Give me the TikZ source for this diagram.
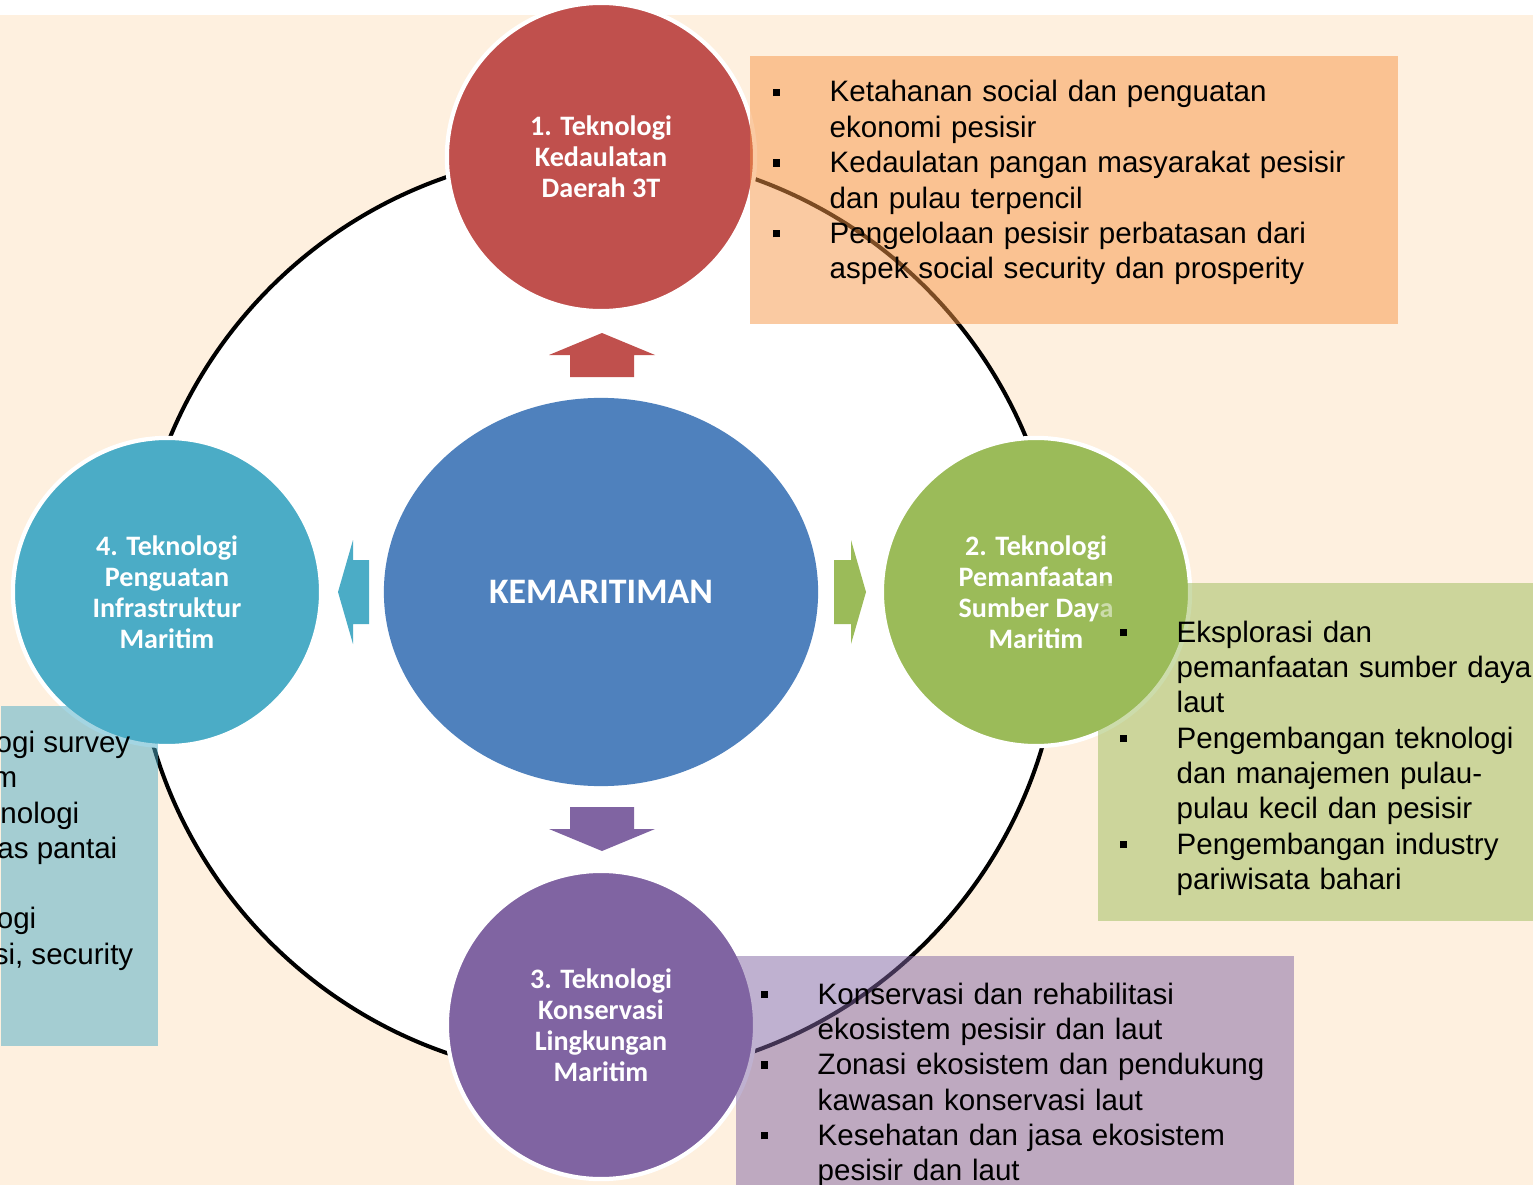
\documentclass[tikz,border=0pt]{standalone}
\usepackage{fontspec}
\newfontfamily\arialfont{Liberation Sans}
\newfontfamily\calfont{Carlito}
\usepackage{xcolor}
\definecolor{PageCream}{HTML}{FEF0DF}
\definecolor{CoreBlue}{HTML}{4F81BD}
\definecolor{SovRed}{HTML}{C0504D}
\definecolor{ResGreen}{HTML}{9BBB59}
\definecolor{EnvPurple}{HTML}{8064A2}
\definecolor{InfraCyan}{HTML}{4BACC6}
\definecolor{NoteOrange}{HTML}{F79646}
\usepackage{tikz}
\usetikzlibrary{shapes.geometric, calc, positioning}
\tikzset{
  ringline/.style={draw=black, fill=white, line width=1.15pt},
  techcircle/.style={circle, draw=white, line width=1.2pt, minimum size=3.08cm, inner sep=0pt, text=white, font=\calfont\bfseries\fontsize{8}{8.8}\selectfont, align=center},
  corenode/.style={ellipse, fill=CoreBlue, minimum width=4.34cm, minimum height=3.88cm, inner sep=0pt, text=white, font=\calfont\bfseries\fontsize{10.2}{12}\selectfont},
  notebox/.style={rectangle, fill opacity=0.5, inner sep=0pt, anchor=north west},
  notetext/.style={font=\arialfont\fontsize{8.4}{10.05}\selectfont, inner sep=0pt, align=left, anchor=base west},
  cuttext/.style={font=\arialfont\fontsize{8.4}{10.05}\selectfont, inner sep=0pt, anchor=base east}
}
\newcommand{\sqb}{\makebox[0.57cm][l]{\rule[0.2em]{0.075cm}{0.075cm}}}
\newcommand{\ind}{\hspace*{0.57cm}}

\begin{document}
\begin{tikzpicture}[x=0.01cm, y=-0.01cm]
  \useasboundingbox (0,0) rectangle (1533,1185);
  \clip (0,0) rectangle (1533,1185);

  % Page
  \fill[white] (0,0) rectangle (1533,15);
  \fill[PageCream] (0,15) rectangle (1533,1185);

  % Ring
  \coordinate (ringc) at (598,615);
  \draw[ringline] (ringc) circle [radius=4.63cm];

  % Technology circles
  \node[techcircle, fill=SovRed] (tech1) at (601,157) {1. Teknologi\\Kedaulatan\\Daerah 3T};
  \node[techcircle, fill=ResGreen] (tech2) at (1036,592) {2. Teknologi\\Pemanfaatan\\Sumber Daya\\Maritim};
  \node[techcircle, fill=EnvPurple] (tech3) at (601,1025) {3. Teknologi\\Konservasi\\Lingkungan\\Maritim};
  \node[techcircle, fill=InfraCyan] (tech4) at (167,592) {4. Teknologi\\Penguatan\\Infrastruktur\\Maritim};

  % Core
  \node[corenode] (core) at (601,592) {KEMARITIMAN};

  % Block arrows
  \fill[SovRed] (570,377) -- (570,355) -- (549,355) -- (602,333) -- (655,355) -- (634,355) -- (634,377) -- cycle;
  \fill[EnvPurple] (570,807) -- (570,829) -- (549,829) -- (602,851) -- (655,829) -- (634,829) -- (634,807) -- cycle;
  \fill[InfraCyan] (369,560) -- (353,560) -- (353,540) -- (338,592) -- (353,644) -- (353,624) -- (369,624) -- cycle;
  \fill[ResGreen] (834,560) -- (851,560) -- (851,540) -- (866,592) -- (851,644) -- (851,624) -- (834,624) -- cycle;

  % Notes for 1
  \node[notebox, fill=NoteOrange, minimum width=6.48cm, minimum height=2.68cm] (note1) at (749,55) {};
  \node[notetext, text width=6.1cm] (list1) at ($(note1.north west)+(23,47)$)
    {\sqb Ketahanan social dan penguatan\\
     \ind ekonomi pesisir\\
     \sqb Kedaulatan pangan masyarakat pesisir\\
     \ind dan pulau terpencil\\
     \sqb Pengelolaan pesisir perbatasan dari\\
     \ind aspek social security dan prosperity};

  % Notes for 2
  \node[notebox, fill=ResGreen, minimum width=4.36cm, minimum height=3.38cm] (note2) at (1097,582) {};
  \node[notetext, text width=4.3cm] (list2) at ($(note2.north west)+(22,60)$)
    {\sqb Eksplorasi dan\\
     \ind pemanfaatan sumber daya\\
     \ind laut\\
     \sqb Pengembangan teknologi\\
     \ind dan manajemen pulau-\\
     \ind pulau kecil dan pesisir\\
     \sqb Pengembangan industry\\
     \ind pariwisata bahari};

  % Notes for 3
  \node[notebox, fill=EnvPurple, minimum width=5.58cm, minimum height=2.30cm] (note3) at (735,955) {};
  \node[notetext, text width=5.3cm] (list3) at ($(note3.north west)+(25,49)$)
    {\sqb Konservasi dan rehabilitasi\\
     \ind ekosistem pesisir dan laut\\
     \sqb Zonasi ekosistem dan pendukung\\
     \ind kawasan konservasi laut\\
     \sqb Kesehatan dan jasa ekosistem\\
     \ind pesisir dan laut};

  % Notes for 4 (cut by the page edge)
  \node[notebox, fill=InfraCyan, minimum width=1.57cm, minimum height=3.40cm] (note4) at (0,705) {};
  \node[cuttext] (cut1) at ($(note4.north west)+(131,47)$) {ogi survey};
  \node[cuttext] (cut2) at ($(note4.north west)+(18,82)$) {m};
  \node[cuttext] (cut3) at ($(note4.north west)+(80,118)$) {nologi};
  \node[cuttext] (cut4) at ($(note4.north west)+(118,153)$) {as pantai};
  \node[cuttext] (cut5) at ($(note4.north west)+(37,223)$) {ogi};
  \node[cuttext] (cut6) at ($(note4.north west)+(134,259)$) {si, security};
\end{tikzpicture}
\end{document}
